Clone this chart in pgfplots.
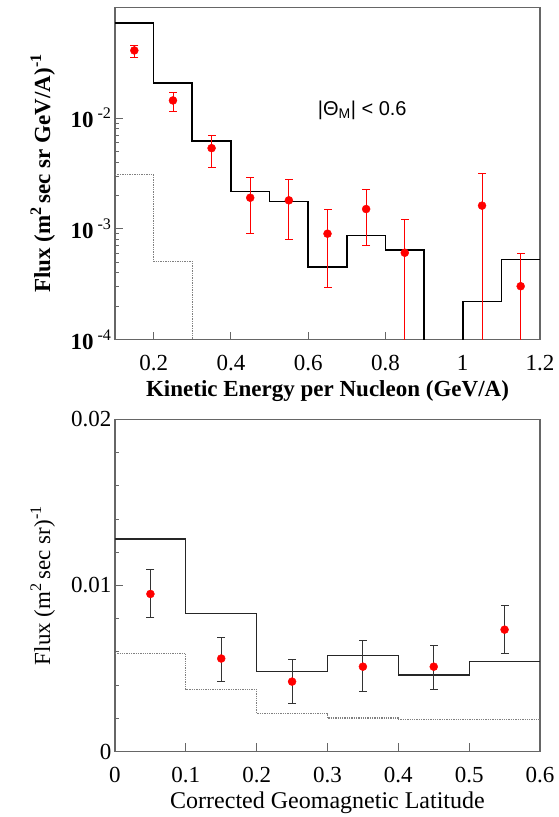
\documentclass[border=0pt]{standalone}
\usepackage{pgfplots}
\pgfplotsset{compat=1.18}
\usepackage{fontspec}
\setmainfont{Liberation Serif}
\newfontfamily\sansf{Liberation Sans}

\begin{document}
\begin{tikzpicture}[font=\fontsize{23}{27}\selectfont]
\pgfplotsset{
  every axis/.append style={
    scale only axis, width=425pt, height=332pt,
    axis line style={draw=black!60, line width=1.2pt},
    every tick/.style={draw=black!60, line width=1pt},
    major tick length=8pt, minor tick length=4pt,
    tick align=inside, tick pos=left,
    /pgf/number format/assume math mode=true,
    tick label style={font=\fontsize{23}{27}\selectfont},
    x tick label style={yshift=-12pt},
    label style={font=\fontsize{23}{27}\selectfont},
    clip mode=individual,
    scaled ticks=false,
  },
}
\path (-115pt,-65.5pt) rectangle (443pt,751.5pt);

% ---------------- top panel ----------------
\begin{axis}[
  at={(0,412pt)}, anchor=south west,
  xmin=0.1, xmax=1.2, ymode=log, ymin=1e-4, ymax=1e-1,
  xtick={0.2,0.4,0.6,0.8,1,1.2}, xticklabels={0.2,0.4,0.6,0.8,1,1.2},
  ytick={1e-4,1e-3,1e-2},
  yticklabels={\textbf{10}\,\textsuperscript{-4},\textbf{10}\,\textsuperscript{-3},\textbf{10}\,\textsuperscript{-2}},
  xlabel={\bfseries Kinetic Energy per Nucleon (GeV/A)},
  ylabel={\bfseries Flux (m\textsuperscript{2}\,sec sr GeV/A)\textsuperscript{-1}},
  xlabel style={at={(axis description cs:0.5,-0.154)}, anchor=center},
  ylabel style={at={(axis description cs:-0.17,0.5)}, anchor=center},
]
\addplot[const plot, black, line width=1.6pt] coordinates {
 (0.1,0.0721) (0.2,0.0207) (0.3,0.0062) (0.4,0.00218) (0.5,0.00177)
 (0.6,0.000451) (0.7,0.00087) (0.8,0.000645) (0.9,1e-6) (1.0,0.000221)
 (1.1,0.00053) (1.2,0.00053)};
\addplot[const plot, black!50, line width=1.4pt, densely dotted] coordinates {
 (0.1,0.00308) (0.2,0.000508) (0.3,1e-6)};
\addplot[red, line width=0.8pt, mark=-, mark size=4pt, unbounded coords=jump] coordinates {
 (0.15,0.0351) (0.15,0.0456) (0.15,nan)
 (0.25,0.0115) (0.25,0.01694) (0.25,nan)
 (0.35,0.0036) (0.35,0.00702) (0.35,nan)
 (0.45,0.000914) (0.45,0.00291) (0.45,nan)
 (0.55,0.000802) (0.55,0.00279) (0.55,nan)
 (0.65,0.000297) (0.65,0.0015) (0.65,nan)
 (0.75,0.000708) (0.75,0.00229) (0.75,nan)
 (0.85,1e-6) (0.85,0.001216) (0.85,nan)
 (1.05,1e-6) (1.05,0.00318) (1.05,nan)
 (1.15,1e-6) (1.15,0.0006)};
\addplot[only marks, mark=*, mark size=4pt, red] coordinates {
 (0.15,0.0409) (0.25,0.01446) (0.35,0.00536) (0.45,0.00191) (0.55,0.00181)
 (0.65,0.000904) (0.75,0.00151) (0.85,0.000608) (1.05,0.00162) (1.15,0.000303)};
\node[font=\sansf\fontsize{20}{22}\selectfont] at (axis cs:0.74,0.0118) {|Θ\textsubscript{M}| < 0.6};
\end{axis}

% ---------------- bottom panel ----------------
\begin{axis}[
  at={(0,0)}, anchor=south west,
  xmin=0, xmax=0.6, ymin=0, ymax=0.02,
  xtick={0,0.1,0.2,0.3,0.4,0.5,0.6}, xticklabels={0,0.1,0.2,0.3,0.4,0.5,0.6},
  ytick={0,0.01,0.02}, yticklabels={0,0.01,0.02},
  minor y tick num=4,
  xlabel={Corrected Geomagnetic Latitude},
  ylabel={Flux (m\textsuperscript{2}\,sec sr)\textsuperscript{-1}},
  xlabel style={at={(axis description cs:0.5,-0.154)}, anchor=center, font=\fontsize{24}{28}\selectfont},
  ylabel style={at={(axis description cs:-0.17,0.5)}, anchor=center},
]
\addplot[const plot, black!85, line width=1.3pt] coordinates {
 (0,0.0128) (0.1,0.00833) (0.2,0.00481) (0.3,0.00578) (0.4,0.0046)
 (0.5,0.00542) (0.6,0.00542)};
\addplot[const plot, black!50, line width=1.3pt, densely dotted] coordinates {
 (0,0.00592) (0.1,0.00375) (0.2,0.00231) (0.3,0.00201) (0.4,0.00191) (0.6,0.00191)};
\addplot[black!80, line width=1pt, mark=-, mark size=4pt, unbounded coords=jump] coordinates {
 (0.05,0.00806) (0.05,0.01097) (0.05,nan)
 (0.15,0.00421) (0.15,0.00688) (0.15,nan)
 (0.25,0.00291) (0.25,0.00556) (0.25,nan)
 (0.35,0.00361) (0.35,0.00666) (0.35,nan)
 (0.45,0.00375) (0.45,0.0064) (0.45,nan)
 (0.55,0.00592) (0.55,0.00881)};
\addplot[only marks, mark=*, mark size=4pt, red] coordinates {
 (0.05,0.00949) (0.15,0.0056) (0.25,0.00421) (0.35,0.00511) (0.45,0.00511) (0.55,0.00734)};
\end{axis}
\end{tikzpicture}
\end{document}
